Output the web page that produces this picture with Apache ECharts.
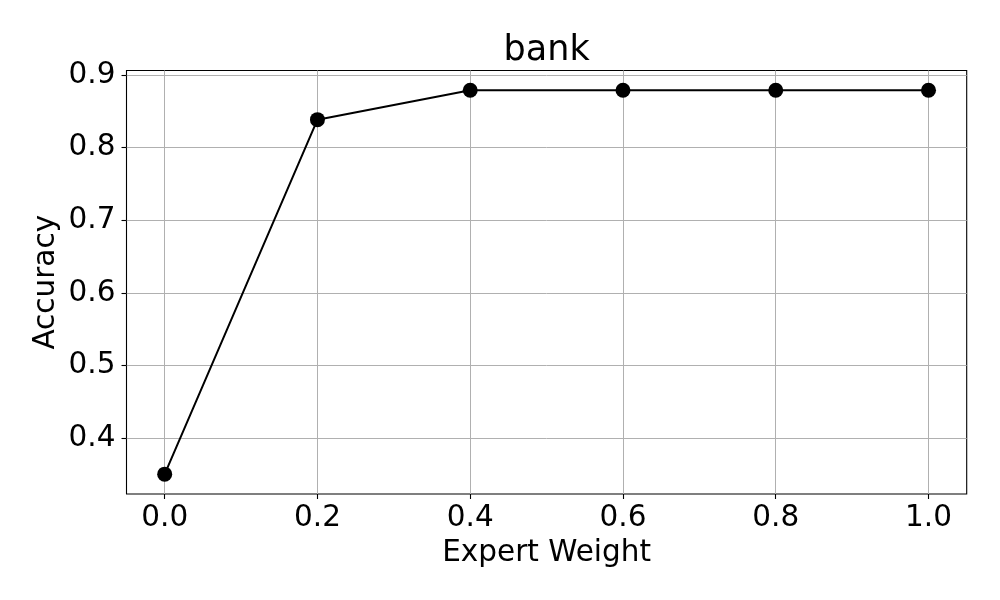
<!DOCTYPE html>
<html>
<head>
<meta charset="utf-8">
<script src="https://cdn.jsdelivr.net/npm/echarts@6/dist/echarts.min.js"></script>
<style>html,body{margin:0;padding:0;background:#fff}#c{width:1000px;height:600px}</style>
</head>
<body>
<div id="c"></div>
<script>
const expertWeight = [0.0, 0.2, 0.4, 0.6, 0.8, 1.0];
const accuracy = [0.3508, 0.8384, 0.8788, 0.8788, 0.8788, 0.8788];
const xTicks = [0.0, 0.2, 0.4, 0.6, 0.8, 1.0];
const yTicks = [0.4, 0.5, 0.6, 0.7, 0.8, 0.9];

const FONT = 'DejaVu Sans';
const chart = echarts.init(document.getElementById('c'), null, {renderer: 'canvas'});
chart.setOption({
  animation: false,
  backgroundColor: '#ffffff',
  title: {
    text: 'bank', left: 546.6, textAlign: 'center', top: 33, padding: 0,
    textStyle: {fontFamily: FONT, fontSize: 35, fontWeight: 'normal', color: '#000'}
  },
  grid: {
    left: 126.5, right: 33.3, top: 70.5, bottom: 106,
    show: true, borderColor: '#000', borderWidth: 1.1, backgroundColor: 'transparent'
  },
  xAxis: {
    type: 'value', min: -0.05, max: 1.05,
    name: 'Expert Weight', nameLocation: 'middle', nameGap: 44, nameMoveOverlap: false,
    nameTextStyle: {fontFamily: FONT, fontSize: 29.5, color: '#000'},
    axisLine: {show: false, onZero: false},
    axisTick: {show: true, inside: false, length: 5, lineStyle: {color: '#000', width: 1.1}, customValues: xTicks},
    axisLabel: {customValues: xTicks, margin: 9, fontFamily: FONT, fontSize: 29.5, color: '#000',
      formatter: v => v.toFixed(1)},
    splitLine: {show: true, lineStyle: {color: '#b0b0b0', width: 1}}
  },
  yAxis: {
    type: 'value', min: 0.3235, max: 0.906,
    name: 'Accuracy', nameLocation: 'middle', nameGap: 65, nameMoveOverlap: false,
    nameTextStyle: {fontFamily: FONT, fontSize: 29.5, color: '#000'},
    axisLine: {show: false, onZero: false},
    axisTick: {show: true, inside: false, length: 5, lineStyle: {color: '#000', width: 1.1}, customValues: yTicks},
    axisLabel: {customValues: yTicks, margin: 11, fontFamily: FONT, fontSize: 29.5, color: '#000',
      formatter: v => v.toFixed(1)},
    splitLine: {show: true, lineStyle: {color: '#b0b0b0', width: 1}}
  },
  series: [{
    type: 'line',
    data: expertWeight.map((x, i) => [x, accuracy[i]]),
    lineStyle: {color: '#000', width: 2},
    itemStyle: {color: '#000'},
    symbol: 'circle', symbolSize: 15,
    showSymbol: true
  }]
});
</script>
</body>
</html>
